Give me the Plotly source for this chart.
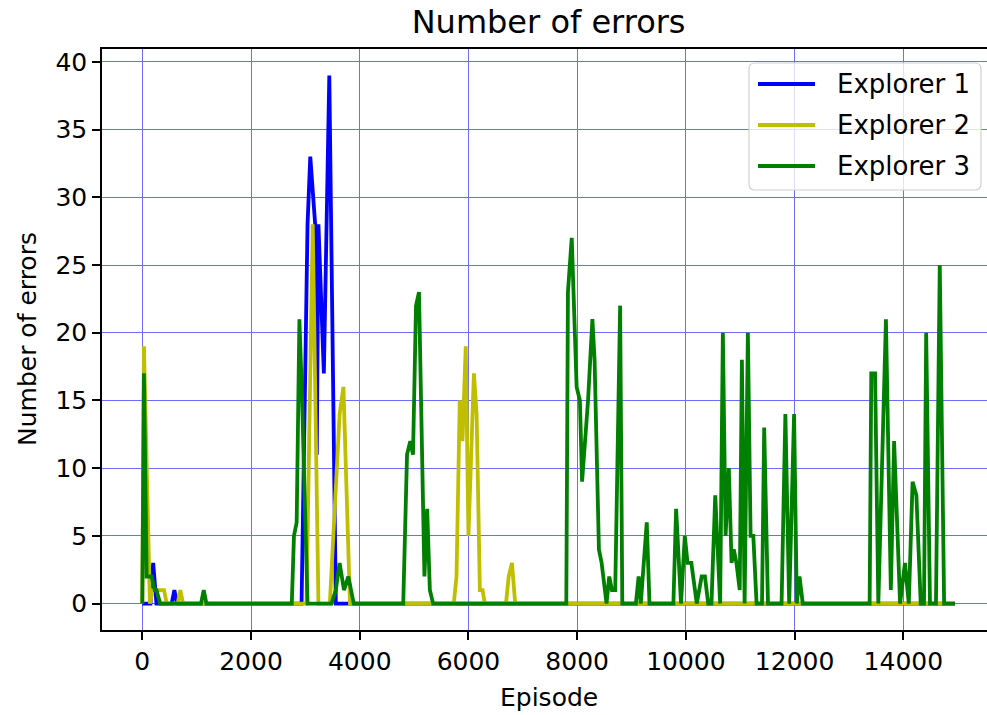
import plotly.graph_objects as go

# ---- data ----
ep_explorer1 = [0, 150, 200, 260, 540, 590, 640, 2930, 3040, 3090, 3180, 3210, 3240, 3340, 3440, 3560, 14950]
err_explorer1 = [0, 0, 3, 0, 0, 1, 0, 0, 28, 33, 28, 11, 28, 17, 39, 0, 0]

ep_explorer2 = [0, 30, 140, 190, 400, 450, 650, 700, 750, 3020, 3135, 3240, 3450, 3630, 3700, 3820,
                5730, 5780, 5840, 5890, 5950, 6000, 6100, 6150, 6210, 6260, 6300, 6690, 6740, 6800, 6860, 14950]
err_explorer2 = [0, 19, 0, 1, 1, 0, 0, 1, 0, 0, 28, 0, 0, 14, 16, 0,
                 0, 2, 15, 12, 19, 5, 17, 14, 1, 1, 0, 0, 2, 3, 0, 0]

ep_explorer3 = [0, 30, 80, 170, 230, 260, 330, 1080, 1130, 1180, 2750, 2790, 2840, 2890, 2940, 3040,
                3480, 3560, 3630, 3710, 3790, 3890, 4800, 4870, 4930, 4980, 5035, 5090, 5190, 5240, 5290, 5350,
                7800, 7830, 7900, 7990, 8050, 8090, 8200, 8280, 8320, 8400, 8450, 8540, 8590, 8640, 8700, 8790, 8830,
                9080, 9130, 9170, 9280, 9330, 9770, 9820, 9910, 9980, 10030, 10100, 10200, 10290, 10350, 10410,
                10470, 10540, 10630, 10680, 10730, 10790, 10840, 10880, 10930, 10990, 11030, 11080, 11140, 11190,
                11240, 11300, 11400, 11440, 11510, 11760, 11830, 11900, 11990, 12040, 12090, 12150,
                13380, 13410, 13480, 13540, 13680, 13770, 13830, 13940, 14030, 14100, 14170, 14240, 14320,
                14380, 14420, 14490, 14600, 14670, 14750, 14950]
err_explorer3 = [0, 17, 2, 2, 1, 1, 0, 0, 1, 0, 0, 5, 6, 21, 15, 0,
                 0, 1, 3, 1, 2, 0, 0, 11, 12, 11, 22, 23, 2, 7, 1, 0,
                 0, 23, 27, 16, 15, 9, 15, 21, 18, 4, 3, 0, 2, 1, 1, 22, 0,
                 0, 2, 0, 6, 0, 0, 7, 0, 5, 3, 3, 0, 2, 2, 0,
                 0, 8, 0, 20, 5, 10, 3, 4, 3, 1, 18, 0, 20, 5,
                 5, 0, 0, 13, 0, 0, 14, 0, 14, 0, 2, 0,
                 0, 17, 17, 0, 21, 1, 12, 0, 3, 0, 9, 8, 0,
                 0, 20, 0, 0, 25, 0, 0]

series_names = ["Explorer 1", "Explorer 2", "Explorer 3"]
series_colors = ["#0000ff", "#bfbf00", "#008000"]

x_ticks = [0, 2000, 4000, 6000, 8000, 10000, 12000, 14000]
y_ticks = [0, 5, 10, 15, 20, 25, 30, 35, 40]

FONT = "DejaVu Sans"
W, H = 987, 715
L, T, B, R = 102, 49, 85, 0
PW, PH = W - L - R, H - T - B


def px2paper_x(px):
    return (px - L) / PW


def px2paper_y(py):
    return (H - B - py) / PH


fig = go.Figure()
for xs, ys, name, col in zip([ep_explorer1, ep_explorer2, ep_explorer3],
                             [err_explorer1, err_explorer2, err_explorer3],
                             series_names, series_colors):
    fig.add_trace(go.Scatter(x=xs, y=ys, mode="lines", name=name, showlegend=False,
                             line=dict(color=col, width=3.8)))

# ---- legend box (drawn like matplotlib's upper-right legend) ----
bx0, bx1, by0, by1, rad = 749, 981, 63, 190, 6
xs_ = [px2paper_x(v) for v in (bx0, bx0 + rad, bx1 - rad, bx1)]
ys_ = [px2paper_y(v) for v in (by0, by0 + rad, by1 - rad, by1)]
path = (f"M {xs_[1]},{ys_[0]} L {xs_[2]},{ys_[0]} Q {xs_[3]},{ys_[0]} {xs_[3]},{ys_[1]} "
        f"L {xs_[3]},{ys_[2]} Q {xs_[3]},{ys_[3]} {xs_[2]},{ys_[3]} "
        f"L {xs_[1]},{ys_[3]} Q {xs_[0]},{ys_[3]} {xs_[0]},{ys_[2]} "
        f"L {xs_[0]},{ys_[1]} Q {xs_[0]},{ys_[0]} {xs_[1]},{ys_[0]} Z")
fig.add_shape(type="path", path=path, xref="paper", yref="paper",
              fillcolor="rgba(255,255,255,0.8)", line=dict(color="#d0d0d0", width=1.2), layer="above")
legend_rows = [84, 125, 166]
for name, col, ry in zip(series_names, series_colors, legend_rows):
    fig.add_shape(type="line", xref="paper", yref="paper",
                  x0=px2paper_x(758), x1=px2paper_x(815), y0=px2paper_y(ry), y1=px2paper_y(ry),
                  line=dict(color=col, width=3.8), layer="above")
    fig.add_annotation(text=name, xref="paper", yref="paper", x=px2paper_x(835), y=px2paper_y(ry),
                       xanchor="left", yanchor="middle", showarrow=False,
                       font=dict(size=26, family=FONT, color="black"))

# ---- axis titles ----
fig.add_annotation(text="Episode", xref="paper", yref="paper", x=px2paper_x(548.6), y=px2paper_y(697),
                   xanchor="center", yanchor="middle", showarrow=False,
                   font=dict(size=25, family=FONT, color="black"))
fig.add_annotation(text="Number of errors", xref="paper", yref="paper", x=px2paper_x(27), y=px2paper_y(339),
                   xanchor="center", yanchor="middle", showarrow=False, textangle=-90,
                   font=dict(size=25, family=FONT, color="black"))

fig.update_layout(
    width=W, height=H,
    margin=dict(l=L, r=R, t=T, b=B, autoexpand=False),
    paper_bgcolor="white", plot_bgcolor="white",
    font=dict(family=FONT, color="black", size=25),
    title=dict(text="Number of errors", x=548.6 / W, xref="container", xanchor="center",
               y=1 - 22 / H, yref="container", yanchor="middle",
               font=dict(size=32, family=FONT, color="black")),
    showlegend=False,
)
grid_col = "#6c6cff"
fig.update_xaxes(range=[(L - 142.3) / 0.05436, (W - 142.3) / 0.05436],
                 tickvals=x_ticks, ticktext=[str(v) for v in x_ticks],
                 showgrid=True, gridcolor=grid_col, gridwidth=1.2, automargin=False,
                 zeroline=False, showline=True, linecolor="black", linewidth=1.5, mirror=True,
                 ticks="outside", ticklen=8, tickwidth=1.5, tickcolor="black",
                 tickfont=dict(size=25, family=FONT))
fig.update_yaxes(range=[-1.95, 40.95], tickvals=y_ticks, ticktext=[str(v) for v in y_ticks],
                 showgrid=True, gridcolor=grid_col, gridwidth=1.2, automargin=False,
                 zeroline=False, showline=True, linecolor="black", linewidth=1.5, mirror=False,
                 ticks="outside", ticklen=8, tickwidth=1.5, tickcolor="black",
                 tickfont=dict(size=25, family=FONT))

fig.write_html("out.html", config={"displayModeBar": False},
               post_script="document.body.style.margin='0';document.body.style.overflow='hidden';")
